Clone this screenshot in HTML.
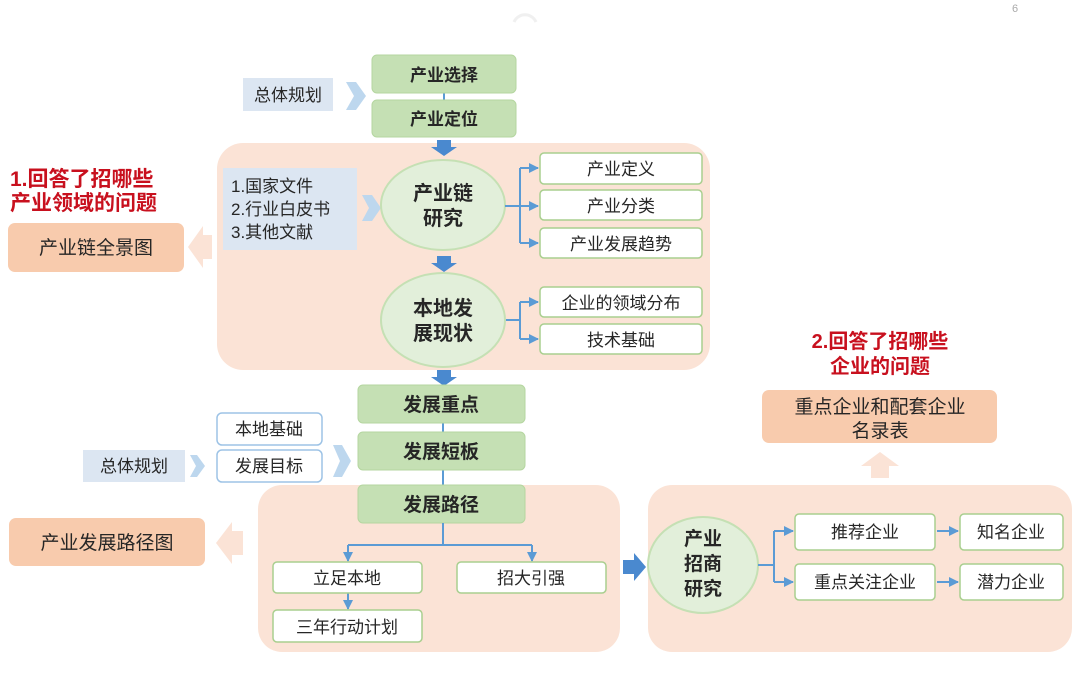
<!DOCTYPE html>
<html><head><meta charset="utf-8"><style>
html,body{margin:0;padding:0;background:#fff;}
svg{display:block;}
text{font-family:"Liberation Sans","Noto Sans CJK SC",sans-serif;fill:#262626;}
.b{font-weight:bold;}
.r{fill:#c8101e;font-weight:bold;}
</style></head><body>
<svg width="1080" height="699" viewBox="0 0 1080 699" xmlns="http://www.w3.org/2000/svg">
<defs>
<marker id="ah" viewBox="0 0 10 10" refX="9" refY="5" markerWidth="5" markerHeight="5" orient="auto"><path d="M0,0 L10,5 L0,10 z" fill="#5b9bd5"/></marker>
</defs>
<rect width="1080" height="699" fill="#fff"/>
<text x="1012" y="12" font-size="11" style="fill:#aaa">6</text>
<path d="M514,22 A12,12 0 0 1 536,22" fill="none" stroke="#f0f0f0" stroke-width="3"/>

<!-- pink containers -->
<rect x="217" y="143" width="493" height="227" rx="26" fill="#fbe3d6"/>
<rect x="258" y="485" width="362" height="167" rx="24" fill="#fbe3d6"/>
<rect x="648" y="485" width="424" height="167" rx="24" fill="#fbe3d6"/>

<!-- top: 总体规划 -->
<rect x="243" y="78" width="90" height="33" fill="#dce6f2"/>
<text x="288" y="101" font-size="17" text-anchor="middle">总体规划</text>
<path d="M346,82 L356,82 L366,96 L356,110 L346,110 L354,96 z" fill="#bdd7ee"/>

<line x1="444" y1="93" x2="444" y2="100" stroke="#5b9bd5" stroke-width="2"/>
<rect x="372" y="55" width="144" height="38" rx="5" fill="#c5e0b4" stroke="#b5d6a0"/>
<text x="444" y="81" font-size="17" text-anchor="middle" class="b">产业选择</text>
<rect x="372" y="100" width="144" height="37" rx="5" fill="#c5e0b4" stroke="#b5d6a0"/>
<text x="444" y="125" font-size="17" text-anchor="middle" class="b">产业定位</text>

<!-- blue down arrows -->
<path d="M437,140 L451,140 L451,147 L457,147 L444,156 L431,147 L437,147 z" fill="#4a89cf"/>
<path d="M437,256 L451,256 L451,263 L457,263 L444,272 L431,263 L437,263 z" fill="#4a89cf"/>
<path d="M437,370 L451,370 L451,377 L457,377 L444,386 L431,377 L437,377 z" fill="#4a89cf"/>

<!-- left docs -->
<rect x="223" y="168" width="134" height="82" fill="#dce6f2"/>
<text x="231" y="192" font-size="17">1.国家文件</text>
<text x="231" y="215" font-size="17">2.行业白皮书</text>
<text x="231" y="238" font-size="17">3.其他文献</text>
<path d="M362,195 L372,195 L381,208 L372,221 L362,221 L369,208 z" fill="#bdd7ee"/>

<!-- ellipse 1 -->
<ellipse cx="443" cy="205" rx="62" ry="45" fill="#e2efda" stroke="#c5e0b4" stroke-width="2"/>
<text x="443" y="200" font-size="20" text-anchor="middle" class="b">产业链</text>
<text x="443" y="225" font-size="20" text-anchor="middle" class="b">研究</text>

<g stroke="#5b9bd5" stroke-width="2" fill="none">
<path d="M505,206 L520,206"/>
<path d="M520,168 L520,243"/>
<path d="M520,168 L538,168" marker-end="url(#ah)"/>
<path d="M520,206 L538,206" marker-end="url(#ah)"/>
<path d="M520,243 L538,243" marker-end="url(#ah)"/>
<path d="M505,320 L520,320"/>
<path d="M520,302 L520,339"/>
<path d="M520,302 L538,302" marker-end="url(#ah)"/>
<path d="M520,339 L538,339" marker-end="url(#ah)"/>
</g>
<g fill="#fff" stroke="#a9cf8f" stroke-width="1.5">
<rect x="540" y="153" width="162" height="31" rx="4"/>
<rect x="540" y="190" width="162" height="30" rx="4"/>
<rect x="540" y="228" width="162" height="30" rx="4"/>
<rect x="540" y="287" width="162" height="30" rx="4"/>
<rect x="540" y="324" width="162" height="30" rx="4"/>
</g>
<text x="621" y="175" font-size="17" text-anchor="middle">产业定义</text>
<text x="621" y="212" font-size="17" text-anchor="middle">产业分类</text>
<text x="621" y="250" font-size="17" text-anchor="middle">产业发展趋势</text>
<text x="621" y="309" font-size="17" text-anchor="middle">企业的领域分布</text>
<text x="621" y="346" font-size="17" text-anchor="middle">技术基础</text>

<ellipse cx="443" cy="320" rx="62" ry="47" fill="#e2efda" stroke="#c5e0b4" stroke-width="2"/>
<text x="443" y="315" font-size="20" text-anchor="middle" class="b">本地发</text>
<text x="443" y="340" font-size="20" text-anchor="middle" class="b">展现状</text>

<!-- left red + box -->
<text x="10" y="186" font-size="21" class="r">1.回答了招哪些</text>
<text x="10" y="210" font-size="21" class="r">产业领域的问题</text>
<rect x="8" y="223" width="176" height="49" rx="7" fill="#f8cbad"/>
<text x="96" y="254" font-size="19" text-anchor="middle">产业链全景图</text>
<path d="M212,235 L203,235 L203,226 L188,247 L203,268 L203,259 L212,259 z" fill="#fbe3d6"/>

<!-- middle green -->
<line x1="443" y1="423" x2="443" y2="486" stroke="#5b9bd5" stroke-width="2"/>
<rect x="358" y="385" width="167" height="38" rx="5" fill="#c5e0b4" stroke="#b5d6a0"/>
<text x="441" y="411" font-size="19" text-anchor="middle" class="b">发展重点</text>
<rect x="358" y="432" width="167" height="38" rx="5" fill="#c5e0b4" stroke="#b5d6a0"/>
<text x="441" y="458" font-size="19" text-anchor="middle" class="b">发展短板</text>
<rect x="358" y="485" width="167" height="38" rx="5" fill="#c5e0b4" stroke="#b5d6a0"/>
<text x="441" y="511" font-size="19" text-anchor="middle" class="b">发展路径</text>

<rect x="217" y="413" width="105" height="32" rx="5" fill="#fff" stroke="#9dc3e6" stroke-width="1.5"/>
<text x="269" y="435" font-size="17" text-anchor="middle">本地基础</text>
<rect x="217" y="450" width="105" height="32" rx="5" fill="#fff" stroke="#9dc3e6" stroke-width="1.5"/>
<text x="269" y="472" font-size="17" text-anchor="middle">发展目标</text>
<rect x="83" y="450" width="102" height="32" fill="#dce6f2"/>
<text x="134" y="472" font-size="17" text-anchor="middle">总体规划</text>
<path d="M190,455 L197,455 L205,466 L197,477 L190,477 L196,466 z" fill="#bdd7ee"/>
<path d="M333,445 L342,445 L351,461 L342,477 L333,477 L340,461 z" fill="#bdd7ee"/>

<!-- path connectors -->
<g stroke="#5b9bd5" stroke-width="2" fill="none">
<path d="M443,523 L443,545"/>
<path d="M348,545 L532,545"/>
<path d="M348,545 L348,561" marker-end="url(#ah)"/>
<path d="M532,545 L532,561" marker-end="url(#ah)"/>
<path d="M348,593 L348,609" marker-end="url(#ah)"/>
</g>
<g fill="#fff" stroke="#a9cf8f" stroke-width="1.5">
<rect x="273" y="562" width="149" height="31" rx="4"/>
<rect x="457" y="562" width="149" height="31" rx="4"/>
<rect x="273" y="610" width="149" height="32" rx="4"/>
</g>
<text x="347" y="584" font-size="17" text-anchor="middle">立足本地</text>
<text x="531" y="584" font-size="17" text-anchor="middle">招大引强</text>
<text x="347" y="633" font-size="17" text-anchor="middle">三年行动计划</text>

<rect x="9" y="518" width="196" height="48" rx="7" fill="#f8cbad"/>
<text x="107" y="549" font-size="19" text-anchor="middle">产业发展路径图</text>
<path d="M243,531 L232,531 L232,522 L216,543 L232,564 L232,555 L243,555 z" fill="#fbe3d6"/>

<!-- right section -->
<path d="M623,560 L634,560 L634,553 L646,567 L634,581 L634,574 L623,574 z" fill="#4a89cf"/>
<ellipse cx="703" cy="565" rx="55" ry="48" fill="#e2efda" stroke="#c5e0b4" stroke-width="2"/>
<text x="703" y="545" font-size="19" text-anchor="middle" class="b">产业</text>
<text x="703" y="570" font-size="19" text-anchor="middle" class="b">招商</text>
<text x="703" y="595" font-size="19" text-anchor="middle" class="b">研究</text>
<g stroke="#5b9bd5" stroke-width="2" fill="none">
<path d="M758,565 L774,565"/>
<path d="M774,531 L774,582"/>
<path d="M774,531 L793,531" marker-end="url(#ah)"/>
<path d="M774,582 L793,582" marker-end="url(#ah)"/>
<path d="M937,531 L958,531" marker-end="url(#ah)"/>
<path d="M937,582 L958,582" marker-end="url(#ah)"/>
</g>
<g fill="#fff" stroke="#a9cf8f" stroke-width="1.5">
<rect x="795" y="514" width="140" height="36" rx="4"/>
<rect x="795" y="564" width="140" height="36" rx="4"/>
<rect x="960" y="514" width="103" height="36" rx="4"/>
<rect x="960" y="564" width="103" height="36" rx="4"/>
</g>
<text x="865" y="538" font-size="17" text-anchor="middle">推荐企业</text>
<text x="865" y="588" font-size="17" text-anchor="middle">重点关注企业</text>
<text x="1011" y="538" font-size="17" text-anchor="middle">知名企业</text>
<text x="1011" y="588" font-size="17" text-anchor="middle">潜力企业</text>

<path d="M871,478 L871,466 L861,466 L880,452 L899,466 L889,466 L889,478 z" fill="#fbe3d6"/>
<rect x="762" y="390" width="235" height="53" rx="7" fill="#f8cbad"/>
<text x="880" y="413" font-size="19" text-anchor="middle">重点企业和配套企业</text>
<text x="880" y="437" font-size="19" text-anchor="middle">名录表</text>
<text x="880" y="348" font-size="20" text-anchor="middle" class="r">2.回答了招哪些</text>
<text x="880" y="373" font-size="20" text-anchor="middle" class="r">企业的问题</text>
</svg>
</body></html>
